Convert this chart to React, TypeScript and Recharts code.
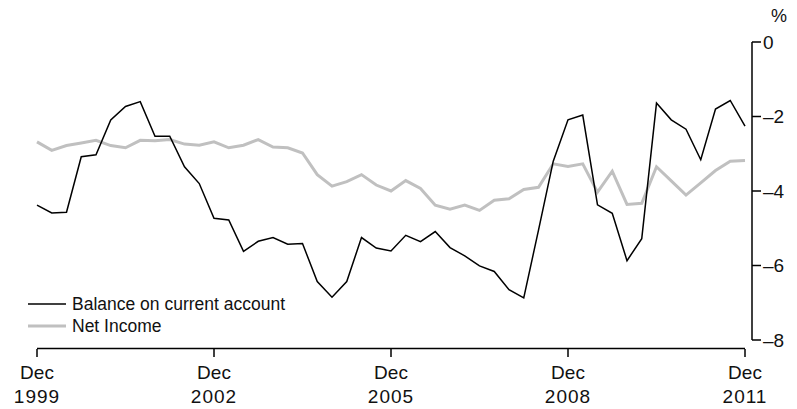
import { LineChart, Line, XAxis, YAxis, Legend, ReferenceLine } from 'recharts';

// Quarterly, Dec 1999 .. Dec 2011 (49 quarters), % of GDP
const balance = [
  -4.38, -4.59, -4.57, -3.08, -3.03, -2.09, -1.73, -1.6, -2.53, -2.53,
  -3.35, -3.8, -4.73, -4.78, -5.62, -5.35, -5.25, -5.43, -5.41, -6.43,
  -6.85, -6.43, -5.25, -5.53, -5.61, -5.19, -5.36, -5.09, -5.52, -5.74,
  -6.01, -6.16, -6.65, -6.87, -5.05, -3.2, -2.09, -1.96, -4.37, -4.6,
  -5.87, -5.28, -1.64, -2.09, -2.34, -3.16, -1.8, -1.57, -2.26,
];

const netIncome = [
  -2.68, -2.91, -2.78, -2.71, -2.64, -2.78, -2.84, -2.64, -2.65, -2.62,
  -2.74, -2.77, -2.68, -2.84, -2.77, -2.62, -2.82, -2.84, -2.98, -3.56,
  -3.87, -3.75, -3.56, -3.84, -4.0, -3.72, -3.93, -4.38, -4.49, -4.38,
  -4.52, -4.25, -4.21, -3.96, -3.9, -3.27, -3.34, -3.27, -4.03, -3.47,
  -4.36, -4.33, -3.35, -3.73, -4.11, -3.78, -3.45, -3.2, -3.18,
];

const xTicks = [0, 12, 24, 36, 48];
const xTickMonth = ['Dec', 'Dec', 'Dec', 'Dec', 'Dec'];
const xTickYear = ['1999', '2002', '2005', '2008', '2011'];
const yTicks = [0, -2, -4, -6, -8];

const data = balance.map((b, i) => ({ i, balance: b, netIncome: netIncome[i] }));

const FONT = '"Liberation Sans", Arial, sans-serif';
const TEXT = '#111';

const XTick = (props: any) => {
  const { x, y, payload } = props;
  const k = xTicks.indexOf(payload.value);
  return (
    <g>
      <line x1={x} x2={x} y1={y + 9} y2={y + 17} stroke="#000" strokeWidth={1.5} />
      <text x={x} y={y + 39} textAnchor="middle" fontSize={19} fill={TEXT} fontFamily={FONT}>
        {xTickMonth[k]}
      </text>
      <text
        x={x}
        y={y + 63}
        textAnchor="middle"
        fontSize={19}
        letterSpacing={1}
        fill={TEXT}
        fontFamily={FONT}
      >
        {xTickYear[k]}
      </text>
    </g>
  );
};

const legendItems = [
  { label: 'Balance on current account', color: '#000', width: 1.5 },
  { label: 'Net Income', color: '#c0c0c0', width: 3 },
];

const renderLegend = () => (
  <div style={{ fontFamily: FONT, fontSize: 17.5, color: TEXT }}>
    {legendItems.map((it) => (
      <div key={it.label} style={{ display: 'flex', alignItems: 'center', height: 22 }}>
        <svg width={38} height={10} style={{ marginRight: 6 }}>
          <line x1={0} x2={38} y1={5} y2={5} stroke={it.color} strokeWidth={it.width} />
        </svg>
        <span>{it.label}</span>
      </div>
    ))}
  </div>
);

export default function App() {
  return (
    <div style={{ position: 'absolute', left: 0, top: 0, width: 797, height: 409, background: '#fff' }}>
      <div
        style={{
          position: 'absolute',
          left: 771,
          top: 6,
          fontFamily: FONT,
          fontSize: 18,
          color: TEXT,
        }}
      >
        %
      </div>
      <LineChart width={797} height={409} data={data} margin={{ top: 42, right: 0, bottom: 0, left: 37 }}>
        <XAxis
          dataKey="i"
          type="number"
          domain={[0, 48]}
          ticks={xTicks}
          padding={{ left: 0, right: 7 }}
          axisLine={false}
          tickLine={false}
          tickSize={0}
          tickMargin={0}
          height={69}
          interval={0}
          tick={<XTick />}
        />
        <YAxis
          orientation="right"
          domain={[-8, 0]}
          ticks={yTicks}
          width={45}
          axisLine={{ stroke: '#000', strokeWidth: 1.5 }}
          tickLine={{ stroke: '#000', strokeWidth: 1.5 }}
          tickSize={9}
          tickMargin={2}
          tick={{ fill: TEXT, fontSize: 19, fontFamily: FONT }}
          tickFormatter={(v: number) => (v < 0 ? `\u2013${-v}` : `${v}`)}
        />
        <ReferenceLine
          segment={[
            { x: 0, y: -8.23 },
            { x: 48, y: -8.23 },
          ]}
          ifOverflow="visible"
          stroke="#000"
          strokeWidth={1.5}
        />
        <Legend
          layout="vertical"
          align="center"
          verticalAlign="middle"
          content={renderLegend}
          wrapperStyle={{ left: 28, top: 293, width: 300 }}
        />
        <Line
          type="linear"
          dataKey="netIncome"
          name="Net Income"
          stroke="#c0c0c0"
          strokeWidth={3}
          dot={false}
          isAnimationActive={false}
        />
        <Line
          type="linear"
          dataKey="balance"
          name="Balance on current account"
          stroke="#000"
          strokeWidth={1.5}
          dot={false}
          isAnimationActive={false}
        />
      </LineChart>
    </div>
  );
}
